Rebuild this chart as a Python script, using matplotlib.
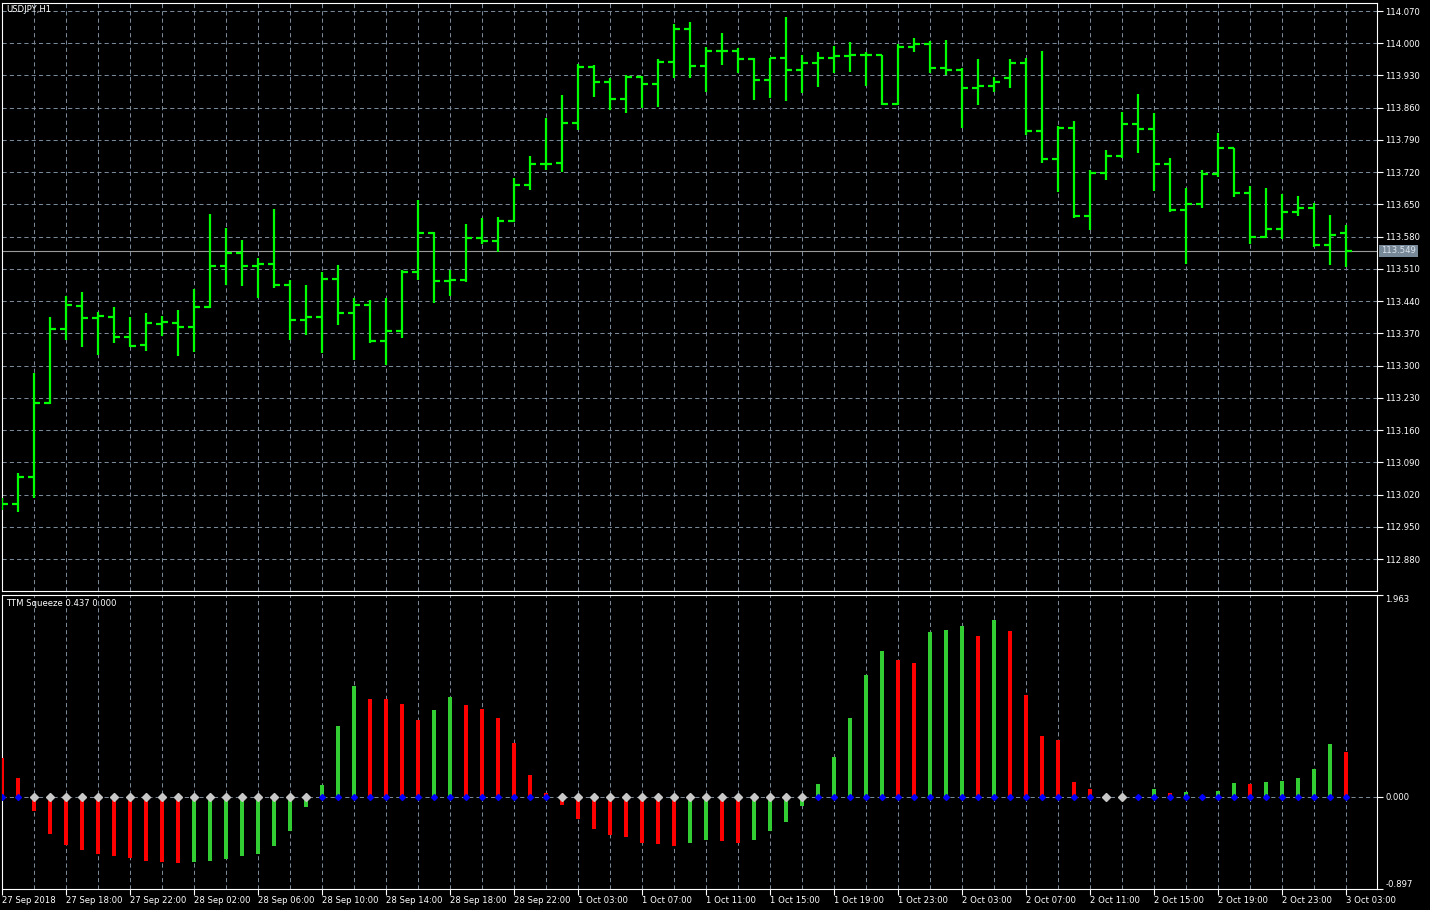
import numpy as np
import matplotlib.pyplot as plt
from matplotlib.transforms import blended_transform_factory

# --- USDJPY H1 OHLC ---
opens = [113.002, 113.000, 113.058, 113.219, 113.380, 113.430, 113.404, 113.406, 113.362, 113.345,
         113.390, 113.393, 113.384, 113.427, 113.516, 113.545, 113.516, 113.521, 113.475, 113.399,
         113.406, 113.488, 113.414, 113.432, 113.354, 113.375, 113.503, 113.588, 113.484, 113.486,
         113.577, 113.571, 113.614, 113.692, 113.738, 113.740, 113.827, 113.948, 113.916, 113.879,
         113.927, 113.912, 113.959, 114.031, 113.951, 113.983, 113.983, 113.966, 113.920, 113.968,
         113.942, 113.957, 113.968, 113.972, 113.975, 113.975, 113.868, 113.992, 113.998, 113.946,
         113.942, 113.903, 113.907, 113.925, 113.957, 113.809, 113.749, 113.816, 113.625, 113.718,
         113.755, 113.825, 113.814, 113.738, 113.638, 113.651, 113.716, 113.773, 113.675, 113.579,
         113.597, 113.634, 113.642, 113.562, 113.588]
highs = [113.013, 113.067, 113.284, 113.406, 113.451, 113.460, 113.417, 113.427, 113.406, 113.414,
         113.408, 113.421, 113.467, 113.629, 113.599, 113.573, 113.534, 113.640, 113.486, 113.475,
         113.503, 113.519, 113.447, 113.443, 113.447, 113.508, 113.660, 113.590, 113.508, 113.608,
         113.621, 113.623, 113.707, 113.755, 113.838, 113.888, 113.955, 113.953, 113.925, 113.931,
         113.929, 113.966, 114.042, 114.046, 113.992, 114.022, 113.990, 113.968, 113.968, 114.057,
         113.975, 113.981, 113.994, 114.003, 113.981, 113.975, 113.998, 114.011, 114.005, 114.007,
         113.946, 113.966, 113.927, 113.966, 113.968, 113.983, 113.820, 113.831, 113.725, 113.768,
         113.851, 113.890, 113.848, 113.751, 113.686, 113.725, 113.805, 113.773, 113.690, 113.686,
         113.673, 113.668, 113.653, 113.627, 113.605]
lows = [112.987, 112.982, 113.013, 113.217, 113.356, 113.341, 113.323, 113.349, 113.341, 113.332,
        113.364, 113.321, 113.330, 113.425, 113.475, 113.473, 113.447, 113.469, 113.356, 113.367,
        113.328, 113.388, 113.312, 113.349, 113.301, 113.360, 113.486, 113.436, 113.451, 113.482,
        113.564, 113.547, 113.612, 113.681, 113.725, 113.720, 113.812, 113.883, 113.855, 113.848,
        113.859, 113.862, 113.925, 113.925, 113.894, 113.953, 113.935, 113.877, 113.881, 113.875,
        113.892, 113.905, 113.935, 113.938, 113.907, 113.866, 113.866, 113.981, 113.935, 113.931,
        113.816, 113.866, 113.894, 113.903, 113.801, 113.740, 113.677, 113.621, 113.595, 113.703,
        113.751, 113.762, 113.679, 113.634, 113.521, 113.642, 113.710, 113.666, 113.564, 113.577,
        113.575, 113.625, 113.558, 113.519, 113.514]
closes = [113.000, 113.058, 113.219, 113.380, 113.432, 113.404, 113.408, 113.362, 113.343, 113.393,
          113.395, 113.384, 113.427, 113.516, 113.545, 113.516, 113.521, 113.475, 113.399, 113.406,
          113.488, 113.414, 113.432, 113.354, 113.375, 113.503, 113.588, 113.484, 113.486, 113.577,
          113.571, 113.614, 113.692, 113.738, 113.738, 113.827, 113.948, 113.916, 113.879, 113.927,
          113.912, 113.959, 114.031, 113.951, 113.983, 113.983, 113.966, 113.920, 113.968, 113.942,
          113.957, 113.968, 113.972, 113.975, 113.975, 113.868, 113.992, 113.998, 113.946, 113.942,
          113.903, 113.907, 113.916, 113.957, 113.809, 113.749, 113.816, 113.625, 113.718, 113.755,
          113.825, 113.814, 113.738, 113.638, 113.651, 113.716, 113.773, 113.675, 113.579, 113.597,
          113.634, 113.642, 113.562, 113.584, 113.549]
last_price = 113.549

# --- TTM Squeeze momentum histogram ---
momentum = [0.38, 0.185, -0.143, -0.36, -0.467, -0.516, -0.555, -0.574, -0.594, -0.623,
            -0.633, -0.642, -0.633, -0.623, -0.603, -0.574, -0.555, -0.477, -0.331, -0.104,
            0.117, 0.69, 1.08, 0.953, 0.950, 0.905, 0.75, 0.846, 0.973, 0.895,
            0.856, 0.768, 0.525, 0.214, 0.04, -0.08, -0.214, -0.311, -0.37, -0.396,
            -0.45, -0.457, -0.477, -0.45, -0.418, -0.428, -0.45, -0.418, -0.331, -0.243,
            -0.088, 0.126, 0.39, 0.768, 1.18, 1.42, 1.33, 1.30, 1.60, 1.62,
            1.66, 1.56, 1.72, 1.61, 0.99, 0.593, 0.554, 0.146, 0.075, -0.02,
            -0.005, 0.01, 0.078, 0.04, 0.05, 0.005, 0.055, 0.136, 0.126, 0.146,
            0.156, 0.185, 0.272, 0.515, 0.437]
# 1 = squeeze on (grey dot), 0 = off (blue dot)
squeeze_on = [0, 0, 1, 1, 1, 1, 1, 1, 1, 1, 1, 1, 1, 1, 1, 1, 1, 1, 1, 1,
              0, 0, 0, 0, 0, 0, 0, 0, 0, 0, 0, 0, 0, 0, 0, 1, 1, 1, 1, 1,
              1, 1, 1, 1, 1, 1, 1, 1, 1, 1, 1, 0, 0, 0, 0, 0, 0, 0, 0, 0,
              0, 0, 0, 0, 0, 0, 0, 0, 0, 1, 1, 0, 0, 0, 0, 0, 0, 0, 0, 0,
              0, 0, 0, 0, 0]

price_ticks = [112.880, 112.950, 113.020, 113.090, 113.160, 113.230, 113.300, 113.370, 113.440,
               113.510, 113.580, 113.650, 113.720, 113.790, 113.860, 113.930, 114.000, 114.070]
time_labels = ['27 Sep 2018', '27 Sep 18:00', '27 Sep 22:00', '28 Sep 02:00', '28 Sep 06:00',
               '28 Sep 10:00', '28 Sep 14:00', '28 Sep 18:00', '28 Sep 22:00', '1 Oct 03:00',
               '1 Oct 07:00', '1 Oct 11:00', '1 Oct 15:00', '1 Oct 19:00', '1 Oct 23:00',
               '2 Oct 03:00', '2 Oct 07:00', '2 Oct 11:00', '2 Oct 15:00', '2 Oct 19:00',
               '2 Oct 23:00', '3 Oct 03:00']

W, H = 1430, 910
BAR_GREEN = '#00ff00'
GRID = '#778899'
FS = 6.1

n = len(closes)
x = np.arange(n)

fig = plt.figure(figsize=(W / 100, H / 100), dpi=100, facecolor='black')
ax = fig.add_axes([2 / W, 1 - 591 / H, 1375 / W, 588 / H])
ax2 = fig.add_axes([2 / W, 1 - 889 / H, 1375 / W, 294 / H])

for a in (ax, ax2):
    a.set_facecolor('black')
    for s in a.spines.values():
        s.set_color('white')
        s.set_linewidth(0.8)
    a.set_xlim(0, 1375 / 16)
    a.yaxis.tick_right()
    a.tick_params(axis='y', direction='out', length=4, width=0.8, color='white',
                  labelcolor='white', labelsize=FS, pad=2)
    # vertical grid every 2 bars
    for xi in range(2, n + 1, 2):
        a.axvline(xi, color=GRID, lw=0.75, ls=(0, (4, 3)), zorder=0)

# --- price panel ---
ax.set_ylim(112.8108, 114.0874)
ax.set_yticks(price_ticks)
ax.set_yticklabels([f'{p:.3f}' for p in price_ticks])
ax.set_xticks([])
for p in price_ticks:
    ax.axhline(p, color=GRID, lw=0.75, ls=(0, (4, 3)), zorder=0)

ax.vlines(x, lows, highs, color=BAR_GREEN, lw=1.6, zorder=3)
ax.hlines(opens, x - 0.375, x, color=BAR_GREEN, lw=1.6, zorder=3)
ax.hlines(closes, x, x + 0.375, color=BAR_GREEN, lw=1.6, zorder=3)

ax.axhline(last_price, color='#9a9a9a', lw=0.8, zorder=2)
tr = blended_transform_factory(ax.transAxes, ax.transData)
ax.text(1 + 4 / 1375, last_price, f'{last_price:.3f}', transform=tr, color='#dde3ea',
        fontsize=FS, va='center', ha='left',
        bbox=dict(facecolor='#778899', edgecolor='none', pad=1.2), zorder=5)

fig.text(6 / W, 1 - 9 / H, 'USDJPY,H1', color='white', fontsize=FS, va='center', ha='left')

# --- TTM Squeeze panel ---
colors = ['#ff0000']
for i in range(1, n):
    colors.append('#32cd32' if momentum[i] > momentum[i - 1] else '#ff0000')
ax2.bar(x, momentum, width=0.25, color=colors, zorder=3)
ax2.axhline(0, color=GRID, lw=0.75, ls=(0, (4, 3)), zorder=1)

sq = np.array(squeeze_on, dtype=bool)
ax2.plot(x[sq], np.zeros(sq.sum()), ls='none', marker='D', ms=3.6,
         color='#c8c8c8', zorder=4)
ax2.plot(x[~sq], np.zeros((~sq).sum()), ls='none', marker='D', ms=3.0,
         color='#0000ff', zorder=4)

ax2.set_ylim(-0.8985, 1.963)
ax2.set_yticks([-0.897, 0.0, 1.963])
ax2.set_yticklabels(['-0.897', '0.000', '1.963'])
ylabs = ax2.get_yticklabels()
ylabs[0].set_va('bottom')
ylabs[2].set_va('top')

ax2.set_xticks(x[::4])
ax2.set_xticklabels(time_labels)
ax2.tick_params(axis='x', direction='out', length=4, width=0.8, color='white',
                labelcolor='white', labelsize=FS, pad=1)
for lab in ax2.get_xticklabels():
    lab.set_ha('left')

fig.text(6 / W, 1 - 603 / H, f'TTM Squeeze {momentum[-1]:.3f} 0.000', color='white',
         fontsize=FS, va='center', ha='left')

fig.savefig('out.png', dpi=100, facecolor='black')
